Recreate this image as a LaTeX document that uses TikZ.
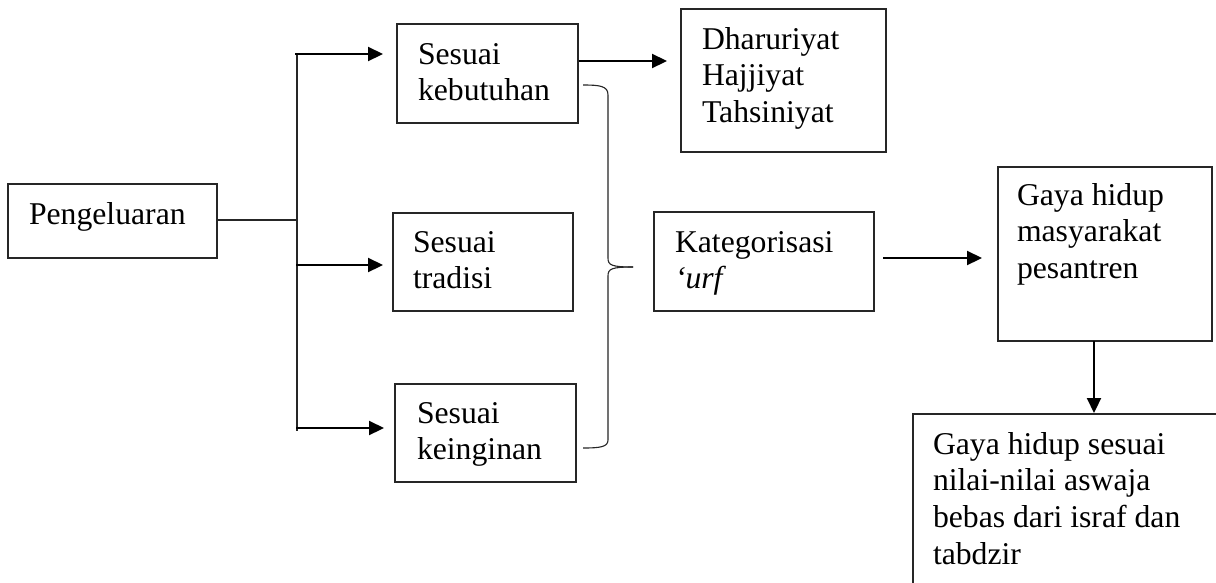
\documentclass[tikz,border=0pt]{standalone}
\usepackage{fontspec}
\setmainfont{Liberation Serif}
\usetikzlibrary{arrows.meta}
\newcommand\mylines[1]{\begin{tabular}[t]{@{}l@{}}#1\end{tabular}}
\tikzset{
  box/.style={draw=black!85, line width=1.1pt, rectangle, inner sep=0pt, outer sep=0pt},
  txt/.style={anchor=base west, inner sep=0pt, outer sep=0pt, font=\fontsize{31.7}{36.7}\selectfont},
  arr/.style={line width=2.2pt, -{Triangle[length=15pt,width=14pt]}},
  thinline/.style={line width=1.1pt, draw=black!85},
  spine/.style={line width=1.4pt, draw=black!85},
}
\begin{document}
\begin{tikzpicture}[x=1pt,y=-1pt]
\clip (0,0) rectangle (1216,582);
\fill[white] (0,0) rectangle (1216,582);
% boxes
\node[box, minimum width=209pt, minimum height=74pt] (peng) at (112.5,221) {};
\node[box, minimum width=181pt, minimum height=99pt] (keb) at (487.5,73.5) {};
\node[box, minimum width=205pt, minimum height=143pt] (dha) at (783.5,80.5) {};
\node[box, minimum width=180pt, minimum height=98pt] (tra) at (483,262) {};
\node[box, minimum width=220pt, minimum height=99pt] (kat) at (764,261.5) {};
\node[box, minimum width=181pt, minimum height=98pt] (kei) at (485.5,433) {};
\node[box, minimum width=214pt, minimum height=174pt] (gaya) at (1105,254) {};
\node[box, minimum width=327pt, minimum height=196pt] (bot) at (1076.5,512) {};
% texts
\node[txt] (tpeng) at (29,224) {Pengeluaran};
\node[txt] (tkeb) at (418,64) {\mylines{Sesuai\\kebutuhan}};
\node[txt] (tdha) at (702,49) {\mylines{Dharuriyat\\Hajjiyat\\Tahsiniyat}};
\node[txt] (ttra) at (413,252) {\mylines{Sesuai\\tradisi}};
\node[txt] (tkat) at (675,252) {\mylines{Kategorisasi\\\textit{‘urf}}};
\node[txt] (tkei) at (417,423) {\mylines{Sesuai\\keinginan}};
\node[txt] (tgaya) at (1017,205) {\mylines{Gaya hidup\\masyarakat\\pesantren}};
\node[txt] (tbot) at (933,454) {\mylines{Gaya hidup sesuai\\nilai-nilai aswaja\\bebas dari israf dan\\tabdzir}};
% spine
\coordinate (sTop) at (297,53);
\coordinate (sMid) at (297,220);
\coordinate (sBot) at (297,431);
\coordinate (a1) at (295,54);
\coordinate (a2) at (296,265);
\coordinate (a3) at (296,428);
\draw[thinline] (peng.east |- sMid) -- (sMid);
\draw[spine] (sTop) -- (sBot);
\draw[arr, shorten >=14pt] (a1) -- (keb.west |- a1);
\draw[arr, shorten >=10pt] (a2) -- (tra.west |- a2);
\draw[arr, shorten >=11pt] (a3) -- (kei.west |- a3);
\coordinate (k1) at (578,61);
\draw[arr, shorten <=1pt, shorten >=14pt] (k1) -- (dha.west |- k1);
\coordinate (k2) at (874,258);
\draw[arr, shorten <=9pt, shorten >=16pt] (k2) -- (gaya.west |- k2);
\coordinate (g1) at (1094,341);
\draw[arr, shorten >=1pt] (g1) -- (bot.north -| g1);
% brace
\draw[thinline] (583,85) .. controls (600,85) and (608,86) .. (608,95)
  -- (608,258) .. controls (608,265) and (611,267) .. (633,267);
\draw[thinline] (633,267) .. controls (611,267) and (608,269) .. (608,276)
  -- (608,440) .. controls (608,447) and (600,448) .. (583,448);
\end{tikzpicture}
\end{document}
